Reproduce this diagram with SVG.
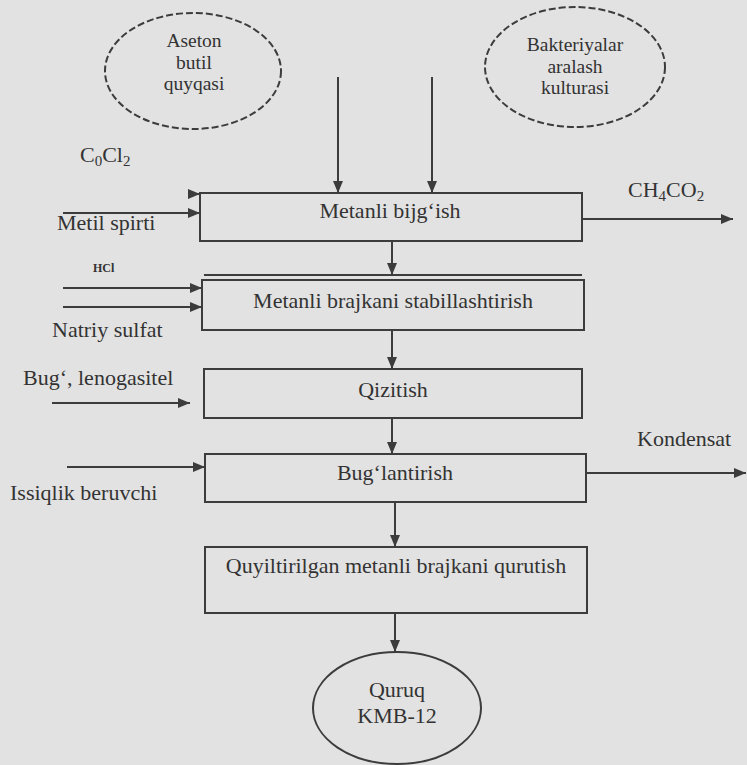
<svg xmlns="http://www.w3.org/2000/svg" width="747" height="765" viewBox="0 0 747 765">
  <style>
    .bg { fill: #e2e2e2; }
    .box { fill: none; stroke: #3c3c3c; stroke-width: 2; }
    .src { fill: none; stroke: #3c3c3c; stroke-width: 2; stroke-dasharray: 7 3; }
    .end { fill: none; stroke: #3c3c3c; stroke-width: 2; }
    .flow { fill: none; stroke: #3c3c3c; stroke-width: 2; marker-end: url(#head); }
    .t { font-family: "Liberation Serif", "Times New Roman", serif; font-size: 22px; fill: #333; }
    .mid { text-anchor: middle; }
    .sm { font-size: 19.5px; }
    .sub { font-size: 15px; }
    .tiny { font-size: 12px; font-weight: bold; }
  </style>
  <defs>
    <marker id="head" markerUnits="userSpaceOnUse" markerWidth="12" markerHeight="10" refX="12" refY="5" orient="auto">
      <path d="M0,0 L12,5 L0,10 Z" fill="#3c3c3c"/>
    </marker>
  </defs>

  <rect class="bg" x="0" y="0" width="747" height="765"/>

  <!-- raw material sources -->
  <g id="aseton">
    <ellipse class="src" cx="193" cy="71" rx="88" ry="58"/>
    <text class="t sm mid" x="194" y="47">Aseton</text>
    <text class="t sm mid" x="194" y="68.5">butil</text>
    <text class="t sm mid" x="194" y="90">quyqasi</text>
  </g>
  <g id="bakteriyalar">
    <ellipse class="src" cx="575" cy="67" rx="90" ry="60"/>
    <text class="t sm mid" x="575" y="51">Bakteriyalar</text>
    <text class="t sm mid" x="575" y="72.5">aralash</text>
    <text class="t sm mid" x="575" y="94">kulturasi</text>
  </g>

  <!-- process steps -->
  <g id="bijgish">
    <rect class="box" x="200" y="193" width="382" height="48"/>
    <text class="t mid" x="390" y="218">Metanli bijg‘ish</text>
  </g>
  <g id="stabillashtirish">
    <line class="box" x1="204" y1="275" x2="582" y2="275"/>
    <rect class="box" x="202" y="280" width="382" height="50"/>
    <text class="t mid" x="393" y="308">Metanli brajkani stabillashtirish</text>
  </g>
  <g id="qizitish">
    <rect class="box" x="204" y="369" width="378" height="49"/>
    <text class="t mid" x="393" y="397">Qizitish</text>
  </g>
  <g id="buglantirish">
    <rect class="box" x="205" y="454" width="381" height="48"/>
    <text class="t mid" x="395" y="480">Bug‘lantirish</text>
  </g>
  <g id="qurutish">
    <rect class="box" x="205" y="547" width="382" height="66"/>
    <text class="t mid" x="396" y="573">Quyiltirilgan metanli brajkani qurutish</text>
  </g>
  <g id="quruq">
    <ellipse class="end" cx="397" cy="708" rx="84" ry="56"/>
    <text class="t mid" x="397" y="697">Quruq</text>
    <text class="t mid" x="397" y="723">KMB-12</text>
  </g>

  <!-- side inputs and outputs -->
  <g id="labels">
    <text class="t" x="80" y="162">C<tspan class="sub" dy="4">0</tspan><tspan dy="-4">Cl</tspan><tspan class="sub" dy="4">2</tspan></text>
    <text class="t" x="57" y="230">Metil spirti</text>
    <text class="t tiny" x="93" y="272">HCl</text>
    <text class="t" x="52" y="337">Natriy sulfat</text>
    <text class="t" x="23" y="385">Bug‘, lenogasitel</text>
    <text class="t" x="10" y="500">Issiqlik beruvchi</text>
    <text class="t" x="628" y="197">CH<tspan class="sub" dy="4">4</tspan><tspan dy="-4">CO</tspan><tspan class="sub" dy="4">2</tspan></text>
    <text class="t" x="637" y="446">Kondensat</text>
  </g>

  <!-- connectors -->
  <g id="connectors">
    <line class="flow" x1="338" y1="77" x2="338" y2="193"/>
    <line class="flow" x1="432" y1="77" x2="432" y2="193"/>
    <line class="flow" x1="190" y1="194" x2="200" y2="194"/>
    <line class="flow" x1="63" y1="213" x2="200" y2="213"/>
    <line class="flow" x1="582" y1="219" x2="733" y2="219"/>
    <line class="flow" x1="392" y1="241" x2="392" y2="275"/>
    <line class="flow" x1="63" y1="288" x2="202" y2="288"/>
    <line class="flow" x1="63" y1="307" x2="202" y2="307"/>
    <line class="flow" x1="392" y1="330" x2="392" y2="369"/>
    <line class="flow" x1="52" y1="403" x2="190" y2="403"/>
    <line class="flow" x1="392" y1="418" x2="392" y2="454"/>
    <line class="flow" x1="67" y1="467" x2="205" y2="467"/>
    <line class="flow" x1="586" y1="473" x2="746" y2="473"/>
    <line class="flow" x1="395" y1="502" x2="395" y2="547"/>
    <line class="flow" x1="395" y1="613" x2="395" y2="652"/>
  </g>
</svg>
